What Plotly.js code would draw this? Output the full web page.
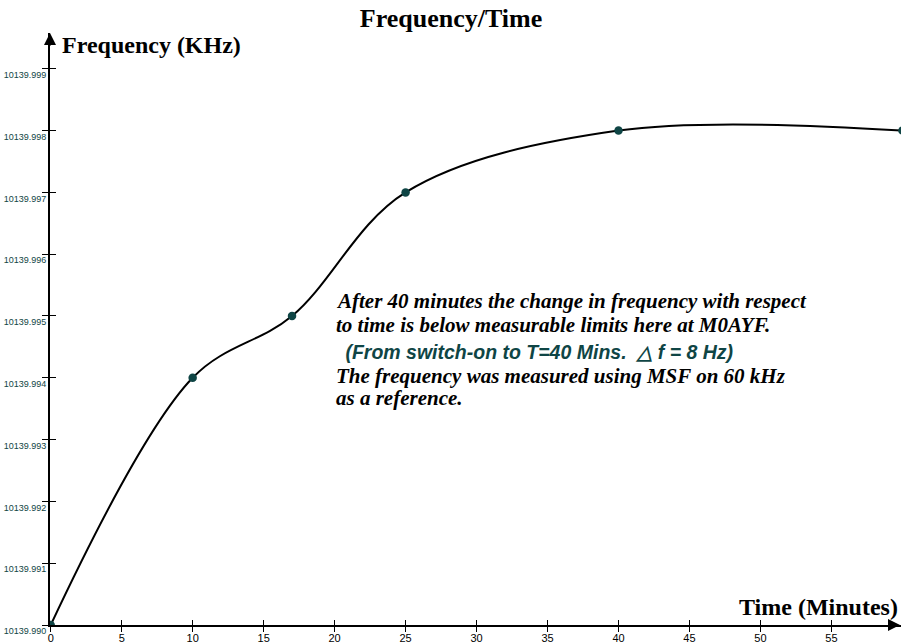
<!DOCTYPE html>
<html>
<head>
<meta charset="utf-8">
<script src="https://cdn.plot.ly/plotly-3.0.1.min.js"></script>
<style>html,body{margin:0;padding:0;background:#fff;}#chart{width:901px;height:643px;}</style>
</head>
<body>
<div id="chart"></div>
<script>
// Data
var timeMinutes = [0, 10, 17, 25, 40, 60];
var frequencyKHz = [10139.990, 10139.994, 10139.995, 10139.997, 10139.998, 10139.998];
var xTickValues = [0, 5, 10, 15, 20, 25, 30, 35, 40, 45, 50, 55];
var yTickValues = [10139.990, 10139.991, 10139.992, 10139.993, 10139.994, 10139.995, 10139.996, 10139.997, 10139.998, 10139.999];
var chartTitle = "Frequency/Time";
var yTitle = "Frequency (KHz)";
var xTitle = "Time (Minutes)";
var noteLines = [
  "After 40 minutes the change in frequency with respect",
  "to time is below measurable limits here at M0AYF.",
  " (From switch-on to T=40 Mins.  \u25B3 f = 8 Hz)",
  "The frequency was measured using MSF on 60 kHz",
  "as a reference."
];

var xRange = [-0.05, 59.9];
var yRange = [10139.990, 10139.999579];
var teal = "#0f4545";

var traces = [
  {
    x: timeMinutes, y: frequencyKHz, type: "scatter", mode: "lines+markers",
    line: {shape: "spline", smoothing: 1, color: "#000", width: 2},
    marker: {color: teal, size: 8.5},
    hoverinfo: "skip", showlegend: false
  },
  {x: [], y: [], xaxis: "x2", yaxis: "y2", type: "scatter", mode: "markers", showlegend: false}
];

var serif = "Liberation Serif, Times New Roman, serif";
var annotations = [
  {text: "<b>" + yTitle + "</b>", xref: "paper", yref: "paper", x: 10/851, y: 1 - 12/592, xanchor: "left", yanchor: "middle", showarrow: false, font: {family: serif, size: 24, color: "#000"}},
  {text: "<b>" + xTitle + "</b>", xref: "paper", yref: "paper", x: 1 - 1/851, y: 18/592, xanchor: "right", yanchor: "middle", showarrow: false, font: {family: serif, size: 24, color: "#000"}},
  // axis arrowheads
  {text: "", xref: "paper", yref: "paper", x: 0, y: 1, ax: 0, ay: 14, showarrow: true, arrowhead: 2, arrowsize: 1.2, arrowwidth: 2, arrowcolor: "#000"},
  {text: "", xref: "paper", yref: "paper", x: 1, y: 0, ax: -14, ay: 0, showarrow: true, arrowhead: 2, arrowsize: 1.2, arrowwidth: 2, arrowcolor: "#000"}
];
var lineY = [301, 325, 352, 376, 398];
var lineX = [334, 334, 338, 334, 334];
for (var i = 0; i < noteLines.length; i++) {
  var isSans = (i === 2);
  annotations.push({
    text: "<b><i>" + noteLines[i] + "</i></b>",
    xref: "paper", yref: "paper",
    x: (lineX[i] - 50) / 851, y: (625 - lineY[i]) / 592,
    xanchor: "left", yanchor: "middle", showarrow: false,
    font: isSans ? {family: "Liberation Sans, Arial, sans-serif", size: 19.5, color: teal}
                 : {family: serif, size: 21, color: "#000"}
  });
}

var layout = {
  width: 901, height: 643,
  margin: {l: 50, r: 0, t: 33, b: 18, pad: 0},
  paper_bgcolor: "#fff", plot_bgcolor: "#fff",
  title: {text: "<b>" + chartTitle + "</b>", x: 451/901, xanchor: "center", y: 1 - 18/643, yanchor: "middle", font: {family: serif, size: 26, color: "#000"}},
  xaxis: {
    range: xRange, tickmode: "array", tickvals: xTickValues, ticktext: xTickValues.map(String),
    ticks: "outside", ticklen: 5, tickwidth: 1, tickcolor: "#000",
    showline: true, linecolor: "#000", linewidth: 2, showgrid: false, zeroline: false,
    tickfont: {family: "Liberation Sans, Arial, sans-serif", size: 11, color: "#000"}, ticklabelstandoff: -3
  },
  yaxis: {
    range: yRange, tickmode: "array", tickvals: yTickValues, ticktext: yTickValues.map(function(v){return v.toFixed(3);}),
    ticks: "outside", ticklen: 6, tickwidth: 1, tickcolor: "#000",
    showline: true, linecolor: "#000", linewidth: 2, showgrid: false, zeroline: false,
    tickfont: {family: "Liberation Sans, Arial, sans-serif", size: 9, color: teal},
    ticklabelshift: 6, ticklabelstandoff: -6
  },
  xaxis2: {range: xRange, overlaying: "x", anchor: "y2", tickmode: "array", tickvals: xTickValues, ticks: "inside", ticklen: 5, tickcolor: "#000", showticklabels: false, showgrid: false, zeroline: false, showline: false},
  yaxis2: {range: yRange, overlaying: "y", anchor: "x2", side: "left", tickmode: "array", tickvals: yTickValues, ticks: "inside", ticklen: 6, tickcolor: "#000", showticklabels: false, showgrid: false, zeroline: false, showline: false},
  annotations: annotations,
  showlegend: false
};

Plotly.newPlot("chart", traces, layout, {staticPlot: true, displayModeBar: false});
</script>
</body>
</html>
